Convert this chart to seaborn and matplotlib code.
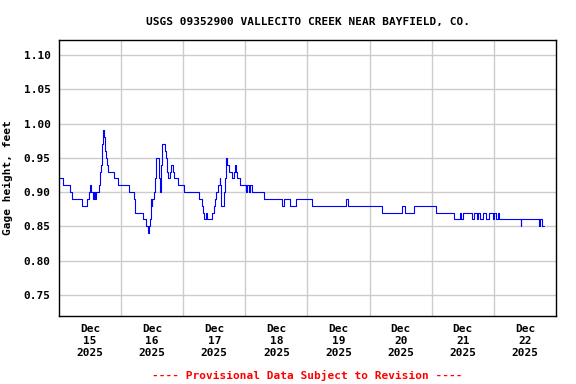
import pandas as pd
import numpy as np
import matplotlib
matplotlib.use("Agg")
import matplotlib.pyplot as plt
import matplotlib.dates as mdates
import seaborn as sns

# Gage height readings (step changes), hours after 2025-12-15 00:00
hours = [0, 1.7, 4.2, 5.2, 9.0, 11.0, 11.7, 12.0, 12.4, 13.3, 13.7, 14.0, 14.3,
         15.6, 15.9, 16.1, 16.5, 16.9, 17.4, 17.8, 18.1, 18.5, 19.1, 21.4, 22.9,
         27.1, 29.0, 29.2, 32.3, 33.8, 34.2, 34.6, 35.1, 35.5, 35.9, 36.1, 36.8,
         37.2, 37.6, 38.5, 38.7, 39.1, 39.5, 39.7, 40.9, 41.4, 41.9, 42.3, 42.9,
         43.4, 44.0, 44.5, 45.8, 48.3, 53.9, 55.2, 55.6, 55.9, 56.6, 57.2, 59.1,
         59.7, 60.4, 60.8, 61.3, 62.1, 62.3, 62.7, 63.6, 64.0, 64.4, 64.9, 65.5,
         66.8, 67.5, 67.9, 68.4, 68.8, 69.8, 72.4, 72.6, 73.3, 73.9, 74.6, 79.1,
         86.2, 86.8, 89.2, 91.7, 97.8, 110.7, 111.6, 124.9, 132.6, 133.5, 137.2,
         145.5, 152.6, 155.0, 155.3, 155.9, 159.7, 160.3, 161.5, 162.0, 162.8,
         163.8, 165.0, 166.2, 167.6, 168.2, 169.0, 169.6, 170.1, 178.3, 178.6,
         185.5, 185.9, 186.5, 187.5]
gage = [0.92, 0.91, 0.90, 0.89, 0.88, 0.89, 0.90, 0.91, 0.90, 0.89, 0.90, 0.89, 0.90,
        0.91, 0.93, 0.94, 0.97, 0.99, 0.98, 0.96, 0.95, 0.94, 0.93, 0.92, 0.91,
        0.90, 0.89, 0.87, 0.86, 0.85, 0.84, 0.85, 0.86, 0.89, 0.88, 0.89, 0.90,
        0.92, 0.95, 0.94, 0.92, 0.90, 0.94, 0.97, 0.96, 0.95, 0.93, 0.92, 0.93,
        0.94, 0.93, 0.92, 0.91, 0.90, 0.89, 0.88, 0.87, 0.86, 0.87, 0.86, 0.87,
        0.88, 0.89, 0.90, 0.91, 0.92, 0.91, 0.88, 0.90, 0.92, 0.95, 0.94, 0.93,
        0.92, 0.93, 0.94, 0.93, 0.92, 0.91, 0.90, 0.91, 0.90, 0.91, 0.90, 0.89,
        0.88, 0.89, 0.88, 0.89, 0.88, 0.89, 0.88, 0.87, 0.88, 0.87, 0.88,
        0.87, 0.86, 0.87, 0.86, 0.87, 0.86, 0.87, 0.86, 0.87, 0.86,
        0.87, 0.86, 0.87, 0.86, 0.87, 0.86, 0.87, 0.86, 0.85, 0.86,
        0.85, 0.86, 0.85, 0.85]

day_labels = ["Dec\n15\n2025", "Dec\n16\n2025", "Dec\n17\n2025", "Dec\n18\n2025",
              "Dec\n19\n2025", "Dec\n20\n2025", "Dec\n21\n2025", "Dec\n22\n2025"]
y_ticks = [0.75, 0.80, 0.85, 0.90, 0.95, 1.00, 1.05, 1.10]

start = pd.Timestamp("2025-12-15")
df = pd.DataFrame({"time": start + pd.to_timedelta(hours, unit="h"), "gage": gage})

sns.set_style("white")
plt.rcParams["font.family"] = ["DejaVu Sans Mono"]
plt.rcParams["font.weight"] = "bold"
for key in ["text.color", "axes.labelcolor", "xtick.color", "ytick.color"]:
    plt.rcParams[key] = "black"

fig, ax = plt.subplots(figsize=(5.76, 3.84), dpi=100)
fig.subplots_adjust(left=0.1024, right=0.9653, top=0.8958, bottom=0.177)

sns.lineplot(data=df, x="time", y="gage", ax=ax, color="#0000ff",
             linewidth=0.8, drawstyle="steps-post", estimator=None)

ax.set_xlim(mdates.date2num(start), mdates.date2num(start + pd.Timedelta(days=8)))
ax.set_ylim(0.719, 1.122)

noon = [mdates.date2num(start + pd.Timedelta(hours=12 + 24 * i)) for i in range(8)]
midnight = [mdates.date2num(start + pd.Timedelta(days=i)) for i in range(1, 8)]
ax.set_xticks(noon)
ax.set_xticklabels(day_labels, fontsize=8, fontweight="bold", linespacing=1.25,
                   color="black")
ax.set_xticks(midnight, minor=True)
ax.set_yticks(y_ticks)
ax.set_yticklabels([f"{v:.2f}" for v in y_ticks], fontsize=8, fontweight="bold",
                   color="black")

ax.grid(False)
ax.grid(True, which="minor", axis="x", color="#cccccc", linewidth=1)
ax.grid(True, which="major", axis="y", color="#cccccc", linewidth=1)
ax.set_axisbelow(True)
ax.tick_params(which="both", length=0, pad=6)

for s in ax.spines.values():
    s.set_color("black")
    s.set_linewidth(1)
    s.set_visible(True)

ax.set_xlabel("")
ax.set_ylabel("Gage height, feet", fontsize=8, fontweight="bold", labelpad=8,
              color="black")
fig.suptitle("USGS 09352900 VALLECITO CREEK NEAR BAYFIELD, CO.", x=0.534, y=0.957,
             fontsize=8, fontweight="bold", color="black")
fig.text(0.534, 0.013, "---- Provisional Data Subject to Revision ----",
         color="red", ha="center", fontsize=8, fontweight="bold")

fig.savefig("out.png", dpi=100, facecolor="white")
